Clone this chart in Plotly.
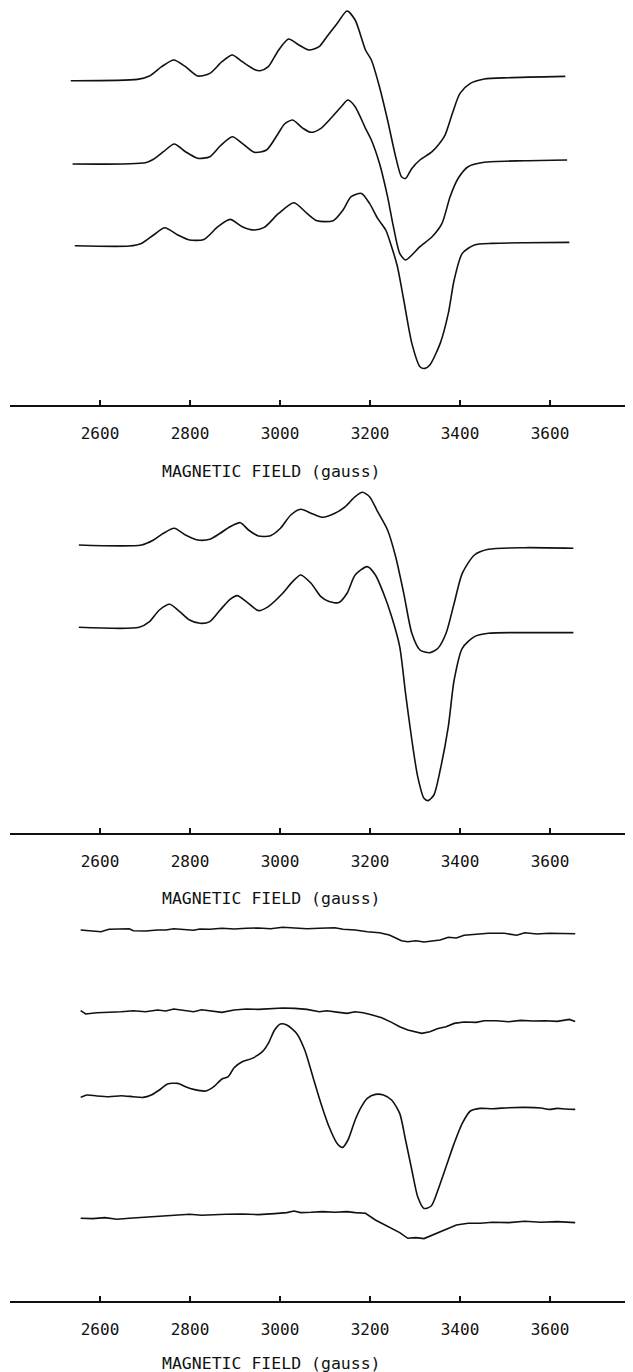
import plotly.graph_objects as go

# ---------------- data (field in gauss, signal in arbitrary units) ----------------
# Panel 1
p1a_field = [2535,2683,2710,2737,2764,2790,2817,2844,2871,2894,2916,2943,2956,2974,2997,3019,3042,3064,3087,3104,
             3127,3149,3167,3190,3203,3221,3239,3257,3270,3279,3293,3311,3338,3365,3383,3400,3423,3454,3508,3634]
p1a_signal = [0,1.3,4.7,14,20.7,14,4.7,7.3,19,25.7,19,11.3,10,14,30.7,41.7,35.7,30.7,34,44,
              57.3,69.7,60.7,30.7,20.7,-6,-39.3,-76,-96,-97.7,-87.7,-79.3,-71,-56,-32.7,-12.7,-2.7,1.7,3,4.3]

p1b_field = [2539,2701,2719,2741,2765,2790,2817,2844,2867,2894,2916,2943,2970,2997,3010,3028,3051,3069,3091,3113,
             3136,3151,3167,3190,3203,3221,3239,3252,3266,3279,3293,3311,3338,3360,3378,3396,3418,3454,3544,3638]
p1b_signal = [0,1.3,4.7,12.3,20,12.3,5.7,7.3,18,27.3,20.7,11.7,14,31.3,40,44,35.7,31.7,35.7,45.7,
              57.3,64,57.3,35.7,24,0.7,-32.7,-62.7,-89.3,-96,-91,-82.7,-72.7,-59.3,-32.7,-14.3,-2.7,1.7,3.3,4]

p1c_field = [2544,2665,2692,2719,2744,2773,2799,2831,2862,2889,2916,2943,2965,2997,3031,3060,3082,3118,3140,3158,
             3181,3199,3217,3235,3248,3261,3275,3293,3311,3322,3333,3356,3374,3387,3405,3432,3472,3544,3643]
p1c_signal = [0,-0.3,2.3,10.7,18,10.7,5.7,6.3,19,26.3,19,15.7,18.3,32.3,43,32.3,25,25,35.7,49,
              52.3,42.3,27.3,15.7,-1,-21,-54.3,-97.7,-121,-122.7,-119.3,-97.7,-67.7,-34.3,-7.7,0.7,2.3,3,3.3]

# Panel 2
p2a_field = [2553,2692,2719,2741,2765,2790,2817,2844,2867,2889,2912,2930,2952,2979,3001,3024,3046,3073,3095,3122,
             3145,3167,3183,3199,3217,3239,3257,3275,3293,3311,3333,3351,3369,3387,3405,3432,3463,3544,3652]
p2a_signal = [0,0,5,11.7,16.7,10,5,5.7,11.7,18.3,22.3,15,9,9.3,16.7,30,35.7,31,27.7,31.7,
              38.3,48.3,52.7,48.3,33.3,15,-11.7,-48.3,-88.3,-105,-107.7,-103.3,-88.3,-58.3,-28.3,-10,-4.3,-2.7,-3.3]

p2b_field = [2553,2687,2710,2732,2755,2777,2799,2822,2844,2867,2889,2905,2925,2952,2974,3006,3028,3046,3069,3091,
             3109,3131,3149,3167,3194,3212,3230,3248,3266,3279,3293,3306,3320,3329,3342,3356,3374,3387,3405,3432,
             3463,3544,3652]
p2b_signal = [0,0,5.7,17.3,23,15.7,7.3,4,5.7,17.3,28,31.7,25.7,16.7,20.7,34,45.7,52.3,44,30.7,
              25.7,24.7,34,52.3,60.7,52.3,34,10.7,-19.3,-66,-112.7,-149.3,-171,-173.3,-167.7,-142.7,-99.3,-52.7,-21,-9.3,
              -6,-5.3,-5.3]

# Panel 3
p3a_field = [2557,2584,2602,2620,2647,2665,2674,2701,2728,2746,2764,2790,2808,2822,2844,2871,2898,2925,2952,2979,
             3006,3033,3060,3087,3122,3140,3167,3194,3221,3243,3261,3270,3284,3302,3320,3338,3356,3374,3392,3409,
             3436,3463,3499,3526,3544,3571,3598,3634,3656]
p3a_signal = [0,-1,-1.7,0.7,0.7,1.3,-0.7,-1,0,0,1.3,0.7,-0.3,1,0.7,1.7,1,1.7,2,1.3,
              2.7,2,1.3,1.7,2.3,0.7,0,-1.7,-2.7,-5,-8.3,-10.7,-11.7,-10.7,-12,-10.7,-10,-7.3,-8,-5.3,
              -4.3,-3.3,-3.3,-5.3,-2.7,-4,-3.3,-3.7,-3.7]

p3b_field = [2557,2568,2593,2620,2647,2674,2701,2728,2746,2764,2790,2808,2826,2853,2871,2898,2925,2952,2979,3006,
             3033,3060,3087,3104,3131,3149,3167,3185,3203,3226,3248,3266,3284,3302,3315,3333,3351,3369,3387,3409,
             3436,3454,3481,3508,3535,3562,3589,3616,3643,3656]
p3b_signal = [2,-1.3,0,0.3,1,2,1,2.7,1.7,3.7,2,1,3,1.7,0.3,2.7,3.7,3.3,4,4.7,
              4.3,3.3,1,2,0.3,-0.7,1,0,-2,-5,-9.7,-14,-17.3,-19,-20.7,-19,-15.7,-14,-10.7,-9.3,
              -9.7,-8,-8,-9,-7.7,-8.3,-8,-8.7,-6.7,-8.7]

p3c_field = [2557,2571,2593,2620,2647,2674,2696,2714,2732,2750,2773,2790,2808,2835,2853,2871,2885,2898,2916,2938,
             2961,2974,2988,3001,3015,3037,3055,3073,3091,3109,3127,3139,3151,3167,3181,3194,3212,3230,3248,3266,
             3279,3293,3306,3320,3336,3351,3369,3387,3405,3423,3445,3472,3508,3544,3580,3598,3616,3634,3656]
p3c_signal = [-0.7,1.7,0.7,0,1,0,-0.7,1.7,6.7,12.7,13.3,10,7.3,5.7,10,17.7,20,29,35,38.3,
              45,53.3,66.7,72.7,71.7,63.3,46.7,20,-6.7,-30,-46.7,-50.7,-43.3,-23.3,-10,-1.7,2.3,1.7,-3.3,-16.7,
              -43.3,-73.3,-100,-111.7,-109.3,-93.3,-70,-46.7,-26.7,-14.3,-11.7,-12,-11,-10.7,-11.3,-12.7,-11.7,-12.3,-12.7]

p3d_field = [2557,2584,2611,2638,2665,2692,2719,2746,2773,2799,2826,2853,2880,2916,2952,2988,3015,3031,3046,3069,
             3095,3122,3149,3167,3190,3212,3239,3266,3284,3302,3320,3338,3356,3374,3392,3418,3445,3472,3508,3544,
             3580,3616,3656]
p3d_signal = [0,-0.3,0.7,-1,0,0.7,1.7,2.3,3.3,4,3,3.7,4,4.3,3.7,4.7,5.7,7.3,5.7,6,
              6.7,6,6.7,5.7,5,-1.7,-7.7,-14.3,-20,-19.3,-20.3,-16.7,-13.3,-10,-6.7,-5,-5,-4,-4.3,-3,
              -4,-3.3,-4.3]

tick_values = [2600, 2800, 3000, 3200, 3400, 3600]
tick_labels = ["2600", "2800", "3000", "3200", "3400", "3600"]
axis_title = "MAGNETIC FIELD (gauss)"

# ---------------- presentation ----------------
PAGE_OFF = 8                       # default page margin of the html body
W, H = 633 - PAGE_OFF, 1372 - PAGE_OFF
INK = "#111111"
FONT = "DejaVu Sans Mono"

def frac(py):
    # py: row in window pixels
    return 1 - (py - PAGE_OFF) / H

# panel geometry (window pixel rows): axis line row, top row, title row
panels = [
    dict(axis=405, top=PAGE_OFF, title=472),
    dict(axis=833, top=480, title=898),
    dict(axis=1301, top=905, title=1363),
]

# vertical offsets of stacked traces (window pixel rows of baselines)
traces = [
    (1, p1a_field, p1a_signal, 80.7, "spline"),
    (1, p1b_field, p1b_signal, 164.0, "spline"),
    (1, p1c_field, p1c_signal, 245.7, "spline"),
    (2, p2a_field, p2a_signal, 545.0, "spline"),
    (2, p2b_field, p2b_signal, 627.3, "spline"),
    (3, p3a_field, p3a_signal, 930.0, "linear"),
    (3, p3b_field, p3b_signal, 1012.7, "linear"),
    (3, p3c_field, p3c_signal, 1096.7, "spline"),
    (3, p3d_field, p3d_signal, 1218.3, "linear"),
]

fig = go.Figure()
for k, fx, sy, base, shape in traces:
    suffix = "" if k == 1 else str(k)
    fig.add_trace(go.Scatter(
        x=fx, y=[v - base for v in sy], mode="lines",
        line=dict(color=INK, width=1.6, shape=shape, smoothing=0.7 if shape == "spline" else None),
        xaxis="x" + suffix, yaxis="y" + suffix, showlegend=False, hoverinfo="skip"))

layout = dict(
    width=W, height=H,
    margin=dict(l=10 - PAGE_OFF, r=0, t=0, b=0),
    paper_bgcolor="white", plot_bgcolor="white",
    showlegend=False,
    annotations=[],
)
x_range = [2400, 2400 + (633 - 10) / 0.45]
for i, p in enumerate(panels, start=1):
    suffix = "" if i == 1 else str(i)
    layout["xaxis" + suffix] = dict(
        range=x_range, anchor="y" + suffix, domain=[0, 1],
        showline=True, linecolor=INK, linewidth=1.5,
        ticks="inside", ticklen=5, tickwidth=1.5, tickcolor=INK,
        tickvals=tick_values, ticktext=tick_labels,
        tickfont=dict(family=FONT, size=16, color=INK),
        ticklabelstandoff=13,
        showgrid=False, zeroline=False, fixedrange=True,
    )
    layout["yaxis" + suffix] = dict(
        range=[-p["axis"], -p["top"]], domain=[frac(p["axis"]), frac(p["top"])],
        visible=False, fixedrange=True, anchor="x" + suffix,
    )
    layout["annotations"].append(dict(
        text=axis_title, xref="x" + suffix, yref="paper",
        x=2982, y=frac(p["title"]), xanchor="center", yanchor="middle",
        showarrow=False, font=dict(family=FONT, size=16.5, color=INK),
    ))

fig.update_layout(**layout)
fig.write_html("out.html")
